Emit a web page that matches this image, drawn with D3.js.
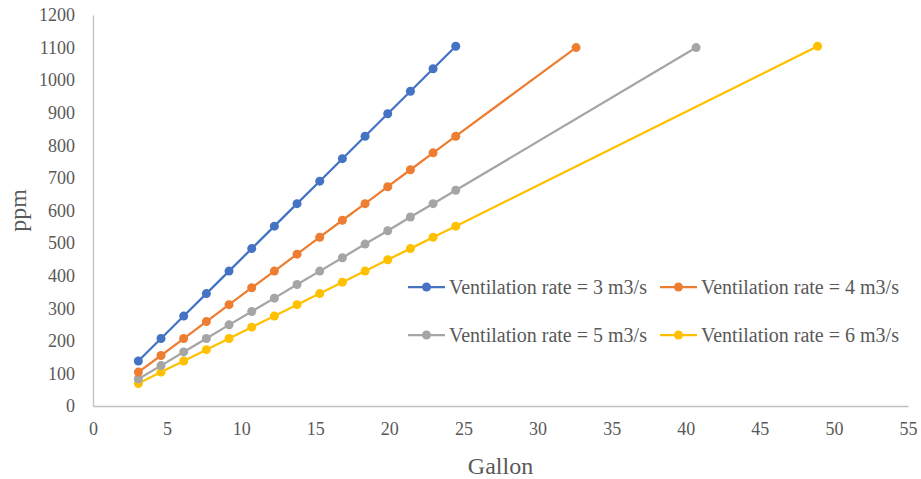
<!DOCTYPE html>
<html>
<head>
<meta charset="utf-8">
<script src="https://cdn.jsdelivr.net/npm/d3@7"></script>
<style>
  body { margin: 0; background: #fff; }
  svg text { font-family: "Liberation Serif", "Times New Roman", serif; fill: #595959; }
</style>
</head>
<body>
<div id="chart"></div>
<script>
// --- Data ---
const seriesNames = [
  "Ventilation rate = 3 m3/s",
  "Ventilation rate = 4 m3/s",
  "Ventilation rate = 5 m3/s",
  "Ventilation rate = 6 m3/s"
];
const seriesColors = ["#4472C4", "#ED7D31", "#A5A5A5", "#FFC000"];

const gallon3 = [3.06, 4.59, 6.12, 7.65, 9.18, 10.71, 12.24, 13.77, 15.3, 16.83, 18.36, 19.89, 21.42, 22.95, 24.48];
const ppm3 = [138, 207, 276, 345, 414, 483, 552, 621, 690, 759, 828, 897, 966, 1035, 1104];

const gallon4 = [3.06, 4.59, 6.12, 7.65, 9.18, 10.71, 12.24, 13.77, 15.3, 16.83, 18.36, 19.89, 21.42, 22.95, 24.48, 32.6];
const ppm4 = [104, 155, 207, 259, 311, 363, 414, 466, 518, 570, 621, 673, 725, 777, 828, 1100];

const gallon5 = [3.06, 4.59, 6.12, 7.65, 9.18, 10.71, 12.24, 13.77, 15.3, 16.83, 18.36, 19.89, 21.42, 22.95, 24.48, 40.7];
const ppm5 = [83, 124, 166, 207, 249, 290, 331, 373, 414, 455, 497, 538, 580, 621, 662, 1100];

const gallon6 = [3.06, 4.59, 6.12, 7.65, 9.18, 10.71, 12.24, 13.77, 15.3, 16.83, 18.36, 19.89, 21.42, 22.95, 24.48, 48.9];
const ppm6 = [69, 104, 138, 173, 207, 242, 276, 311, 345, 380, 414, 449, 483, 518, 552, 1104];

const xTicks = [0, 5, 10, 15, 20, 25, 30, 35, 40, 45, 50, 55];
const yTicks = [0, 100, 200, 300, 400, 500, 600, 700, 800, 900, 1000, 1100, 1200];

// --- Layout ---
const width = 921;
const height = 479;
const margin = { top: 15, right: 13, bottom: 73, left: 93 };
const innerWidth = width - margin.left - margin.right;
const innerHeight = height - margin.top - margin.bottom;
const FONT = "'Liberation Serif', 'Times New Roman', serif";

const svg = d3.select("#chart")
  .append("svg")
  .attr("width", width)
  .attr("height", height)
  .attr("font-family", FONT);

const g = svg.append("g")
  .attr("transform", `translate(${margin.left},${margin.top})`);

const x = d3.scaleLinear().domain([0, 55]).range([0, innerWidth]);
const y = d3.scaleLinear().domain([0, 1200]).range([innerHeight, 0]);

// Axes (no tick marks, grey axis lines)
const xAxis = g.append("g")
  .attr("transform", `translate(0,${innerHeight})`)
  .call(d3.axisBottom(x).tickValues(xTicks).tickFormat(d3.format("d")).tickSize(0).tickPadding(16));
const yAxis = g.append("g")
  .call(d3.axisLeft(y).tickValues(yTicks).tickFormat(d3.format("d")).tickSize(0).tickPadding(18));

[xAxis, yAxis].forEach((ax) => {
  ax.attr("font-family", FONT).attr("font-size", 18);
  ax.select(".domain").attr("stroke", "#BFBFBF").attr("stroke-width", 1.3);
  ax.selectAll("text").attr("fill", "#595959");
});

// Axis titles
svg.append("text")
  .attr("x", margin.left + x(27.5))
  .attr("y", 474)
  .attr("text-anchor", "middle")
  .attr("font-size", 24)
  .text("Gallon");

svg.append("text")
  .attr("transform", `translate(26, ${margin.top + y(600)}) rotate(-90)`)
  .attr("text-anchor", "middle")
  .attr("font-size", 24)
  .text("ppm");

// Series
const series = [
  { name: seriesNames[0], color: seriesColors[0], xs: gallon3, ys: ppm3 },
  { name: seriesNames[1], color: seriesColors[1], xs: gallon4, ys: ppm4 },
  { name: seriesNames[2], color: seriesColors[2], xs: gallon5, ys: ppm5 },
  { name: seriesNames[3], color: seriesColors[3], xs: gallon6, ys: ppm6 }
];

const line = d3.line().x((d) => x(d[0])).y((d) => y(d[1]));

// draw in reverse so blue sits on top
series.slice().reverse().forEach((s) => {
  const pts = s.xs.map((v, i) => [v, s.ys[i]]);
  g.append("path")
    .datum(pts)
    .attr("fill", "none")
    .attr("stroke", s.color)
    .attr("stroke-width", 2.25)
    .attr("d", line);
  g.selectAll(null)
    .data(pts)
    .join("circle")
    .attr("cx", (d) => x(d[0]))
    .attr("cy", (d) => y(d[1]))
    .attr("r", 4.5)
    .attr("fill", s.color);
});

// Legend (2 x 2)
const legendPos = [
  [408, 287], [660, 287],
  [408, 335], [660, 335]
];
series.forEach((s, i) => {
  const [lx, ly] = legendPos[i];
  const lg = svg.append("g").attr("transform", `translate(${lx},${ly})`);
  lg.append("line")
    .attr("x1", 0).attr("x2", 37)
    .attr("y1", 0).attr("y2", 0)
    .attr("stroke", s.color)
    .attr("stroke-width", 2.25);
  lg.append("circle").attr("cx", 18.5).attr("cy", 0).attr("r", 4.5).attr("fill", s.color);
  lg.append("text")
    .attr("x", 41)
    .attr("y", 0)
    .attr("dy", "0.35em")
    .attr("font-size", 20)
    .text(s.name);
});
</script>
</body>
</html>
